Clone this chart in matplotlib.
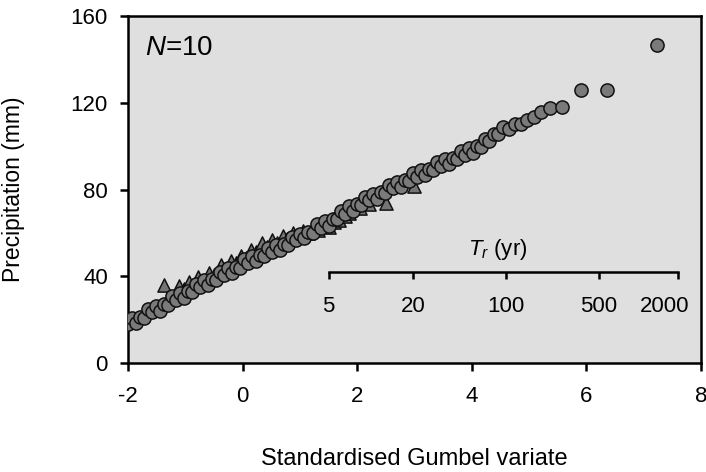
import numpy as np
import matplotlib
matplotlib.use('Agg')
import matplotlib.pyplot as plt
from matplotlib.transforms import ScaledTranslation

plt.rcParams['font.family'] = ['Liberation Sans', 'DejaVu Sans']
plt.rcParams['mathtext.fontset'] = 'custom'
plt.rcParams['mathtext.rm'] = 'Liberation Sans'
plt.rcParams['mathtext.it'] = 'Liberation Sans:italic'
plt.rcParams['axes.unicode_minus'] = False

# circles (standardised Gumbel variate, precipitation mm)
circ_x = [-2.00, -1.93, -1.86, -1.79, -1.72, -1.65, -1.58, -1.51, -1.44, -1.37,
          -1.30, -1.23, -1.16, -1.09, -1.02, -0.95, -0.88, -0.81, -0.74, -0.67,
          -0.60, -0.53, -0.46, -0.39, -0.32, -0.25, -0.18, -0.11, -0.04, 0.03,
          0.10, 0.17, 0.24, 0.31, 0.38, 0.45, 0.52, 0.59, 0.66, 0.73,
          0.80, 0.87, 0.94, 1.01, 1.08, 1.15, 1.22, 1.29, 1.36, 1.43,
          1.50, 1.57, 1.64, 1.71, 1.78, 1.85, 1.92, 1.99, 2.06, 2.13,
          2.20, 2.27, 2.34, 2.41, 2.48, 2.55, 2.62, 2.69, 2.76, 2.83,
          2.90, 2.97, 3.04, 3.11, 3.18, 3.25, 3.32, 3.39, 3.46, 3.53,
          3.60, 3.67, 3.74, 3.81, 3.88, 3.95, 4.02, 4.09, 4.16, 4.23,
          4.30, 4.38, 4.46, 4.55, 4.65, 4.75, 4.86, 4.97, 5.08, 5.20,
          5.36, 5.58, 5.91, 6.36, 7.23]
circ_y = [18.0, 20.6, 18.4, 21.3, 20.9, 24.8, 23.3, 26.5, 24.2, 27.2,
          26.8, 30.7, 29.2, 32.3, 30.1, 33.1, 32.6, 36.5, 34.9, 38.1,
          35.8, 38.8, 38.3, 42.1, 40.6, 43.7, 41.5, 44.4, 44.0, 47.8,
          46.2, 49.2, 46.9, 49.8, 49.3, 53.0, 51.4, 54.5, 52.2, 55.0,
          54.5, 58.3, 56.7, 59.7, 57.5, 60.5, 60.1, 64.0, 62.4, 65.6,
          63.4, 66.5, 66.2, 70.3, 68.9, 72.2, 70.1, 73.2, 72.8, 76.6,
          75.0, 78.1, 75.8, 78.7, 78.2, 82.1, 80.5, 83.6, 81.3, 84.2,
          83.7, 87.5, 85.9, 88.9, 86.6, 89.4, 88.8, 92.6, 90.9, 94.0,
          91.6, 94.4, 93.9, 97.6, 96.0, 99.0, 96.7, 99.9, 99.7, 103.3,
          102.5, 105.6, 105.7, 108.6, 108.0, 110.2, 110.0, 112.0, 113.5, 115.8,
          117.5, 118.0, 126.0, 126.0, 146.5]

# triangles
tri_x = [-1.37, -1.11, -1.03, -0.94, -0.86, -0.77, -0.69, -0.59, -0.50, -0.38,
         -0.30, -0.21, -0.12, -0.03, 0.06, 0.15, 0.24, 0.34, 0.42, 0.52,
         0.60, 0.70, 0.78, 0.88, 0.96, 1.06, 1.14, 1.24, 1.32, 1.42,
         1.50, 1.60, 1.68, 1.78, 1.86, 2.05, 2.20, 2.50, 3.00]
tri_y = [36.0, 35.5, 34.0, 37.5, 36.0, 39.5, 38.0, 41.5, 40.5, 45.0,
         43.5, 47.0, 46.0, 49.5, 48.5, 52.0, 51.0, 55.5, 53.5, 56.5,
         55.5, 58.5, 57.0, 60.0, 58.5, 61.0, 60.0, 62.0, 61.5, 63.0,
         62.5, 65.0, 66.0, 68.0, 69.0, 71.5, 73.5, 74.0, 81.5]

# return periods for the inset axis
tr_ticks = [5, 20, 100, 500, 2000]


def to_T(x):
    x = np.asarray(x, dtype=float)
    with np.errstate(over='ignore', divide='ignore'):
        return 1.0 / (1.0 - np.exp(-np.exp(-x)))


def to_x(T):
    T = np.asarray(T, dtype=float)
    with np.errstate(divide='ignore', invalid='ignore'):
        return -np.log(-np.log(1.0 - 1.0 / T))


fig = plt.figure(figsize=(7.06, 4.72), dpi=100)
ax = fig.add_axes([0.1813, 0.2309, 0.8116, 0.7352])
ax.set_facecolor('#dfdfdf')

ax.scatter(tri_x, tri_y, marker='^', s=90, facecolor='#747474',
           edgecolor='#111111', linewidth=1.1, zorder=3)
ax.scatter(circ_x, circ_y, marker='o', s=90, facecolor='#7a7a7a',
           edgecolor='#111111', linewidth=1.1, zorder=4)

ax.set_xlim(-2, 8)
ax.set_ylim(0, 160)
ax.set_xticks([-2, 0, 2, 4, 6, 8])
ax.set_yticks([0, 40, 80, 120, 160])
ax.tick_params(direction='out', length=5.5, width=1.8, labelsize=16)
ax.tick_params(axis='x', pad=11)
ax.tick_params(axis='y', pad=9)
for s in ax.spines.values():
    s.set_linewidth(1.8)

ax.set_ylabel('Precipitation (mm)', fontsize=16.5)
ax.yaxis.set_label_coords(-0.18, 0.5)
ax.set_xlabel('Standardised Gumbel variate', fontsize=17)
ax.xaxis.set_label_coords(0.5, -0.245)

ax.text(0.03, 0.945, r'$\mathit{N}$=10', transform=ax.transAxes,
        fontsize=20, va='top', ha='left')

# return period axis inside the plot
sec = ax.secondary_xaxis(42 / 160, functions=(to_T, to_x))
sec.set_alignment('bottom')
sec.set_xticks(tr_ticks)
sec.set_xticklabels([str(t) for t in tr_ticks])
sec.tick_params(direction='out', length=5, width=1.8, labelsize=16, pad=12)
sec.spines['bottom'].set_bounds(5, 2000)
sec.spines['bottom'].set_linewidth(1.8)
last = sec.get_xticklabels()[-1]
last.set_transform(last.get_transform() +
                   ScaledTranslation(-0.13, 0, fig.dpi_scale_trans))
ax.text(4.45, 52.5, r'$T_r$ (yr)', fontsize=16, ha='center', va='center')

fig.savefig('out.png', dpi=100)
